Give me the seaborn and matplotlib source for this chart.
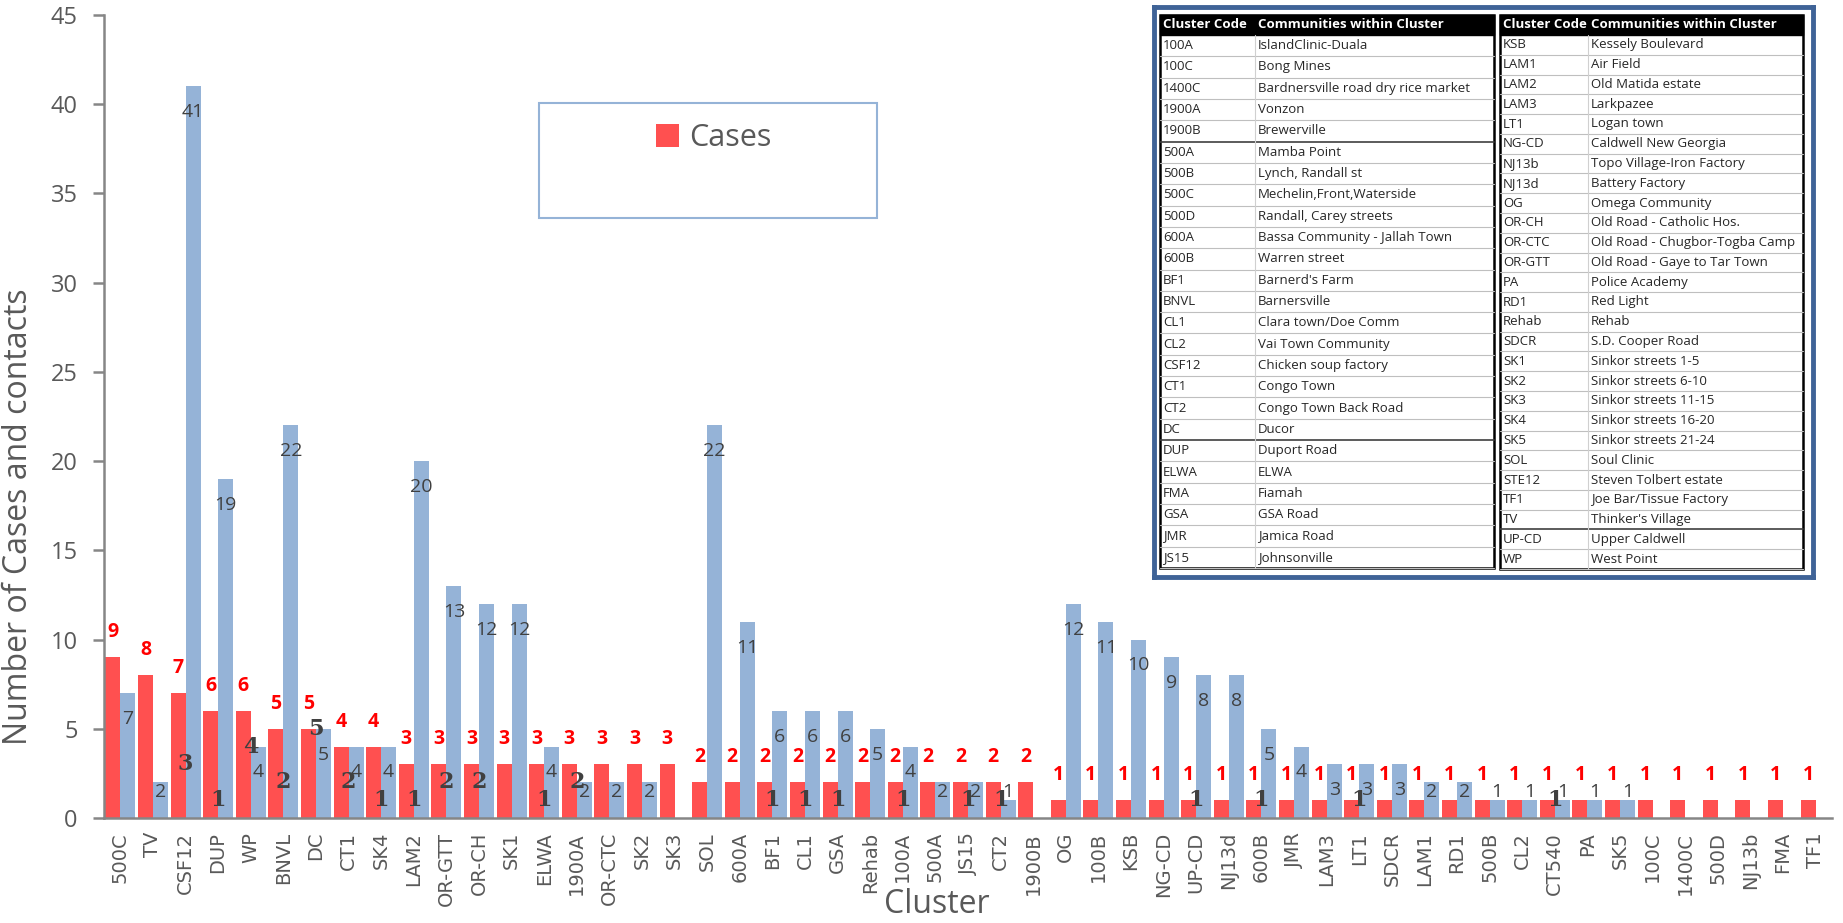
import pandas as pd
import seaborn as sns
from matplotlib import pyplot as plt
from matplotlib.patches import Rectangle

clusters = ["500C", "TV", "CSF12", "DUP", "WP", "BNVL", "DC", "CT1", "SK4", "LAM2",
            "OR-GTT", "OR-CH", "SK1", "ELWA", "1900A", "OR-CTC", "SK2", "SK3", "SOL", "600A",
            "BF1", "CL1", "GSA", "Rehab", "100A", "500A", "JS15", "CT2", "1900B", "OG",
            "100B", "KSB", "NG-CD", "UP-CD", "NJ13d", "600B", "JMR", "LAM3", "LT1", "SDCR",
            "LAM1", "RD1", "500B", "CL2", "CT540", "PA", "SK5", "100C", "1400C", "500D",
            "NJ13b", "FMA", "TF1"]
cases = [9, 8, 7, 6, 6, 5, 5, 4, 4, 3,
         3, 3, 3, 3, 3, 3, 3, 3, 2, 2,
         2, 2, 2, 2, 2, 2, 2, 2, 2, 1,
         1, 1, 1, 1, 1, 1, 1, 1, 1, 1,
         1, 1, 1, 1, 1, 1, 1, 1, 1, 1,
         1, 1, 1]
contacts = [7, 2, 41, 19, 4, 22, 5, 4, 4, 20,
            13, 12, 12, 4, 2, 2, 2, 0, 22, 11,
            6, 6, 6, 5, 4, 2, 2, 1, 0, 12,
            11, 10, 9, 8, 8, 5, 4, 3, 3, 3,
            2, 2, 1, 1, 1, 1, 1, 0, 0, 0,
            0, 0, 0]
# third set of labels (dark, bold) shown without bars
extra = [0, 0, 3, 1, 4, 2, 5, 2, 1, 1,
         2, 2, 0, 1, 2, 0, 0, 0, 0, 0,
         1, 1, 1, 0, 1, 0, 1, 1, 0, 0,
         0, 0, 0, 1, 0, 1, 0, 0, 1, 0,
         0, 0, 0, 0, 1, 0, 0, 0, 0, 0,
         0, 0, 0]

codes_left = ["100A", "100C", "1400C", "1900A", "1900B", "500A", "500B", "500C", "500D",
              "600A", "600B", "BF1", "BNVL", "CL1", "CL2", "CSF12", "CT1", "CT2", "DC",
              "DUP", "ELWA", "FMA", "GSA", "JMR", "JS15"]
names_left = ["IslandClinic-Duala", "Bong Mines", "Bardnersville road dry rice market",
              "Vonzon", "Brewerville", "Mamba Point", "Lynch, Randall st",
              "Mechelin,Front,Waterside", "Randall, Carey streets",
              "Bassa Community - Jallah Town", "Warren street", "Barnerd's Farm",
              "Barnersville", "Clara town/Doe Comm", "Vai Town Community",
              "Chicken soup factory", "Congo Town", "Congo Town Back Road", "Ducor",
              "Duport Road", "ELWA", "Fiamah", "GSA Road", "Jamica Road", "Johnsonville"]
codes_right = ["KSB", "LAM1", "LAM2", "LAM3", "LT1", "NG-CD", "NJ13b", "NJ13d", "OG",
               "OR-CH", "OR-CTC", "OR-GTT", "PA", "RD1", "Rehab", "SDCR", "SK1", "SK2",
               "SK3", "SK4", "SK5", "SOL", "STE12", "TF1", "TV", "UP-CD", "WP"]
names_right = ["Kessely Boulevard", "Air Field", "Old Matida estate", "Larkpazee",
               "Logan town", "Caldwell New Georgia", "Topo Village-Iron Factory",
               "Battery Factory", "Omega Community", "Old Road - Catholic Hos.",
               "Old Road - Chugbor-Togba Camp", "Old Road - Gaye to Tar Town",
               "Police Academy", "Red Light", "Rehab", "S.D. Cooper Road",
               "Sinkor streets 1-5", "Sinkor streets 6-10", "Sinkor streets 11-15",
               "Sinkor streets 16-20", "Sinkor streets 21-24", "Soul Clinic",
               "Steven Tolbert estate", "Joe Bar/Tissue Factory", "Thinker's Village",
               "Upper Caldwell", "West Point"]

RED = "#FF5050"
BLUE = "#95B3D7"
GREY = "#595959"
SANS = ["Open Sans", "DejaVu Sans"]

sns.set_theme(style="ticks")
plt.rcParams["font.family"] = ["DejaVu Sans"]

W, H = 1843, 923
fig = plt.figure(figsize=(W / 100, H / 100), dpi=100)
ax = fig.add_axes([104 / W, 1 - 818 / H, 1728 / W, 803 / H])

df = pd.DataFrame({"Cluster": clusters, "Cases": cases, "Contacts": contacts})
long = df.melt(id_vars="Cluster", var_name="Series", value_name="Count")
sns.barplot(data=long, x="Cluster", y="Count", hue="Series", order=clusters,
            hue_order=["Cases", "Contacts"], palette=[RED, BLUE], saturation=1,
            width=0.92, linewidth=0, ax=ax, legend=False)

ax.set_ylim(0, 45)
ax.set_yticks(range(0, 46, 5))
ax.set_xlim(-0.5, len(clusters) - 0.5)
sns.despine(ax=ax)
for s in ["left", "bottom"]:
    ax.spines[s].set_color("#868686")
    ax.spines[s].set_linewidth(1.8)
ax.tick_params(axis="y", length=8, width=1.8, color="#868686", pad=11,
               labelsize=17, labelcolor=GREY)
ax.tick_params(axis="x", length=0, pad=10, labelsize=14, labelcolor=GREY,
               labelrotation=90)
for t in ax.get_yticklabels():
    t.set_family(SANS)

ax.set_xlabel("Cluster", fontsize=23, color=GREY, family=SANS)
ax.xaxis.set_label_coords(0.482, -0.087)
ax.set_ylabel("Number of Cases and contacts", fontsize=23, color=GREY, family=SANS)
ax.yaxis.set_label_coords(-0.04, 0.375)

red_bars, blue_bars = ax.containers[0], ax.containers[1]
for bar in red_bars:
    h = bar.get_height()
    ax.text(bar.get_x() + bar.get_width() / 2, h + 1.4, f"{h:.0f}", ha="center",
            va="center", color="#FF0000", fontweight="bold", fontsize=14, family=SANS)
for bar in blue_bars:
    h = bar.get_height()
    if h > 0:
        ax.text(bar.get_x() + bar.get_width() / 2, max(h - 1.45, 1.45), f"{h:.0f}",
                ha="center", va="center", color="#404040", fontsize=14, family=SANS)
for bar, v in zip(red_bars, extra):
    if v:
        ax.text(bar.get_x() + bar.get_width(), v, str(v), ha="center", va="center",
                color="#404040", fontweight="bold", fontsize=16, family="DejaVu Serif")

# legend with a large box
fig.patches.append(Rectangle((539 / W, 1 - 218 / H), 338 / W, 115 / H,
                             transform=fig.transFigure, fill=False,
                             edgecolor=BLUE, linewidth=1.5))
fig.legend([red_bars], ["Cases"], loc="center", bbox_to_anchor=(714 / W, 1 - 138 / H),
           frameon=False, handlelength=0.75, handleheight=0.75, handletextpad=0.35,
           prop={"family": SANS, "size": 22}, labelcolor=GREY)

# cluster code table
bx0, by0, bx1, by1 = 1154, 7, 1813, 577
tax = fig.add_axes([bx0 / W, 1 - by1 / H, (bx1 - bx0) / W, (by1 - by0) / H])
tax.set_xlim(bx0, bx1)
tax.set_ylim(by1, by0)
tax.set_xticks([])
tax.set_yticks([])
tax.set_facecolor("white")
for s in tax.spines.values():
    s.set_color("#3F6397")
    s.set_linewidth(3.5)


def draw_table(x0, x1, xdiv, top, bottom, codes, names, dark_after):
    head = 20
    row_h = (bottom - top - head) / len(codes)
    tax.add_patch(Rectangle((x0, top), x1 - x0, head, color="black"))
    tax.text(x0 + 3, top + head / 2, "Cluster Code", color="white", fontweight="bold",
             fontsize=9.5, va="center", family=SANS)
    tax.text(xdiv + 3, top + head / 2, "Communities within Cluster", color="white",
             fontweight="bold", fontsize=9.5, va="center", family=SANS)
    for k, (c, nm) in enumerate(zip(codes, names)):
        y = top + head + (k + 0.5) * row_h
        tax.text(x0 + 3, y, c, fontsize=9.5, va="center", color="#262626", family=SANS)
        tax.text(xdiv + 3, y, nm, fontsize=9.5, va="center", color="#262626", family=SANS)
        dark = c in dark_after
        tax.plot([x0, x1], [y + row_h / 2] * 2, color="#404040" if dark else "#bfbfbf",
                 lw=1.2 if dark else 0.8)
    tax.plot([xdiv, xdiv], [top + head, bottom], color="#d0d0d0", lw=0.8)
    tax.add_patch(Rectangle((x0, top), x1 - x0, bottom - top, fill=False,
                            edgecolor="black", lw=1.8))


draw_table(1160, 1494, 1255, 15, 568, codes_left, names_left, ["1900B", "DC"])
draw_table(1500, 1803, 1588, 15, 569, codes_right, names_right, ["TV"])

fig.savefig("out.png", dpi=100)
